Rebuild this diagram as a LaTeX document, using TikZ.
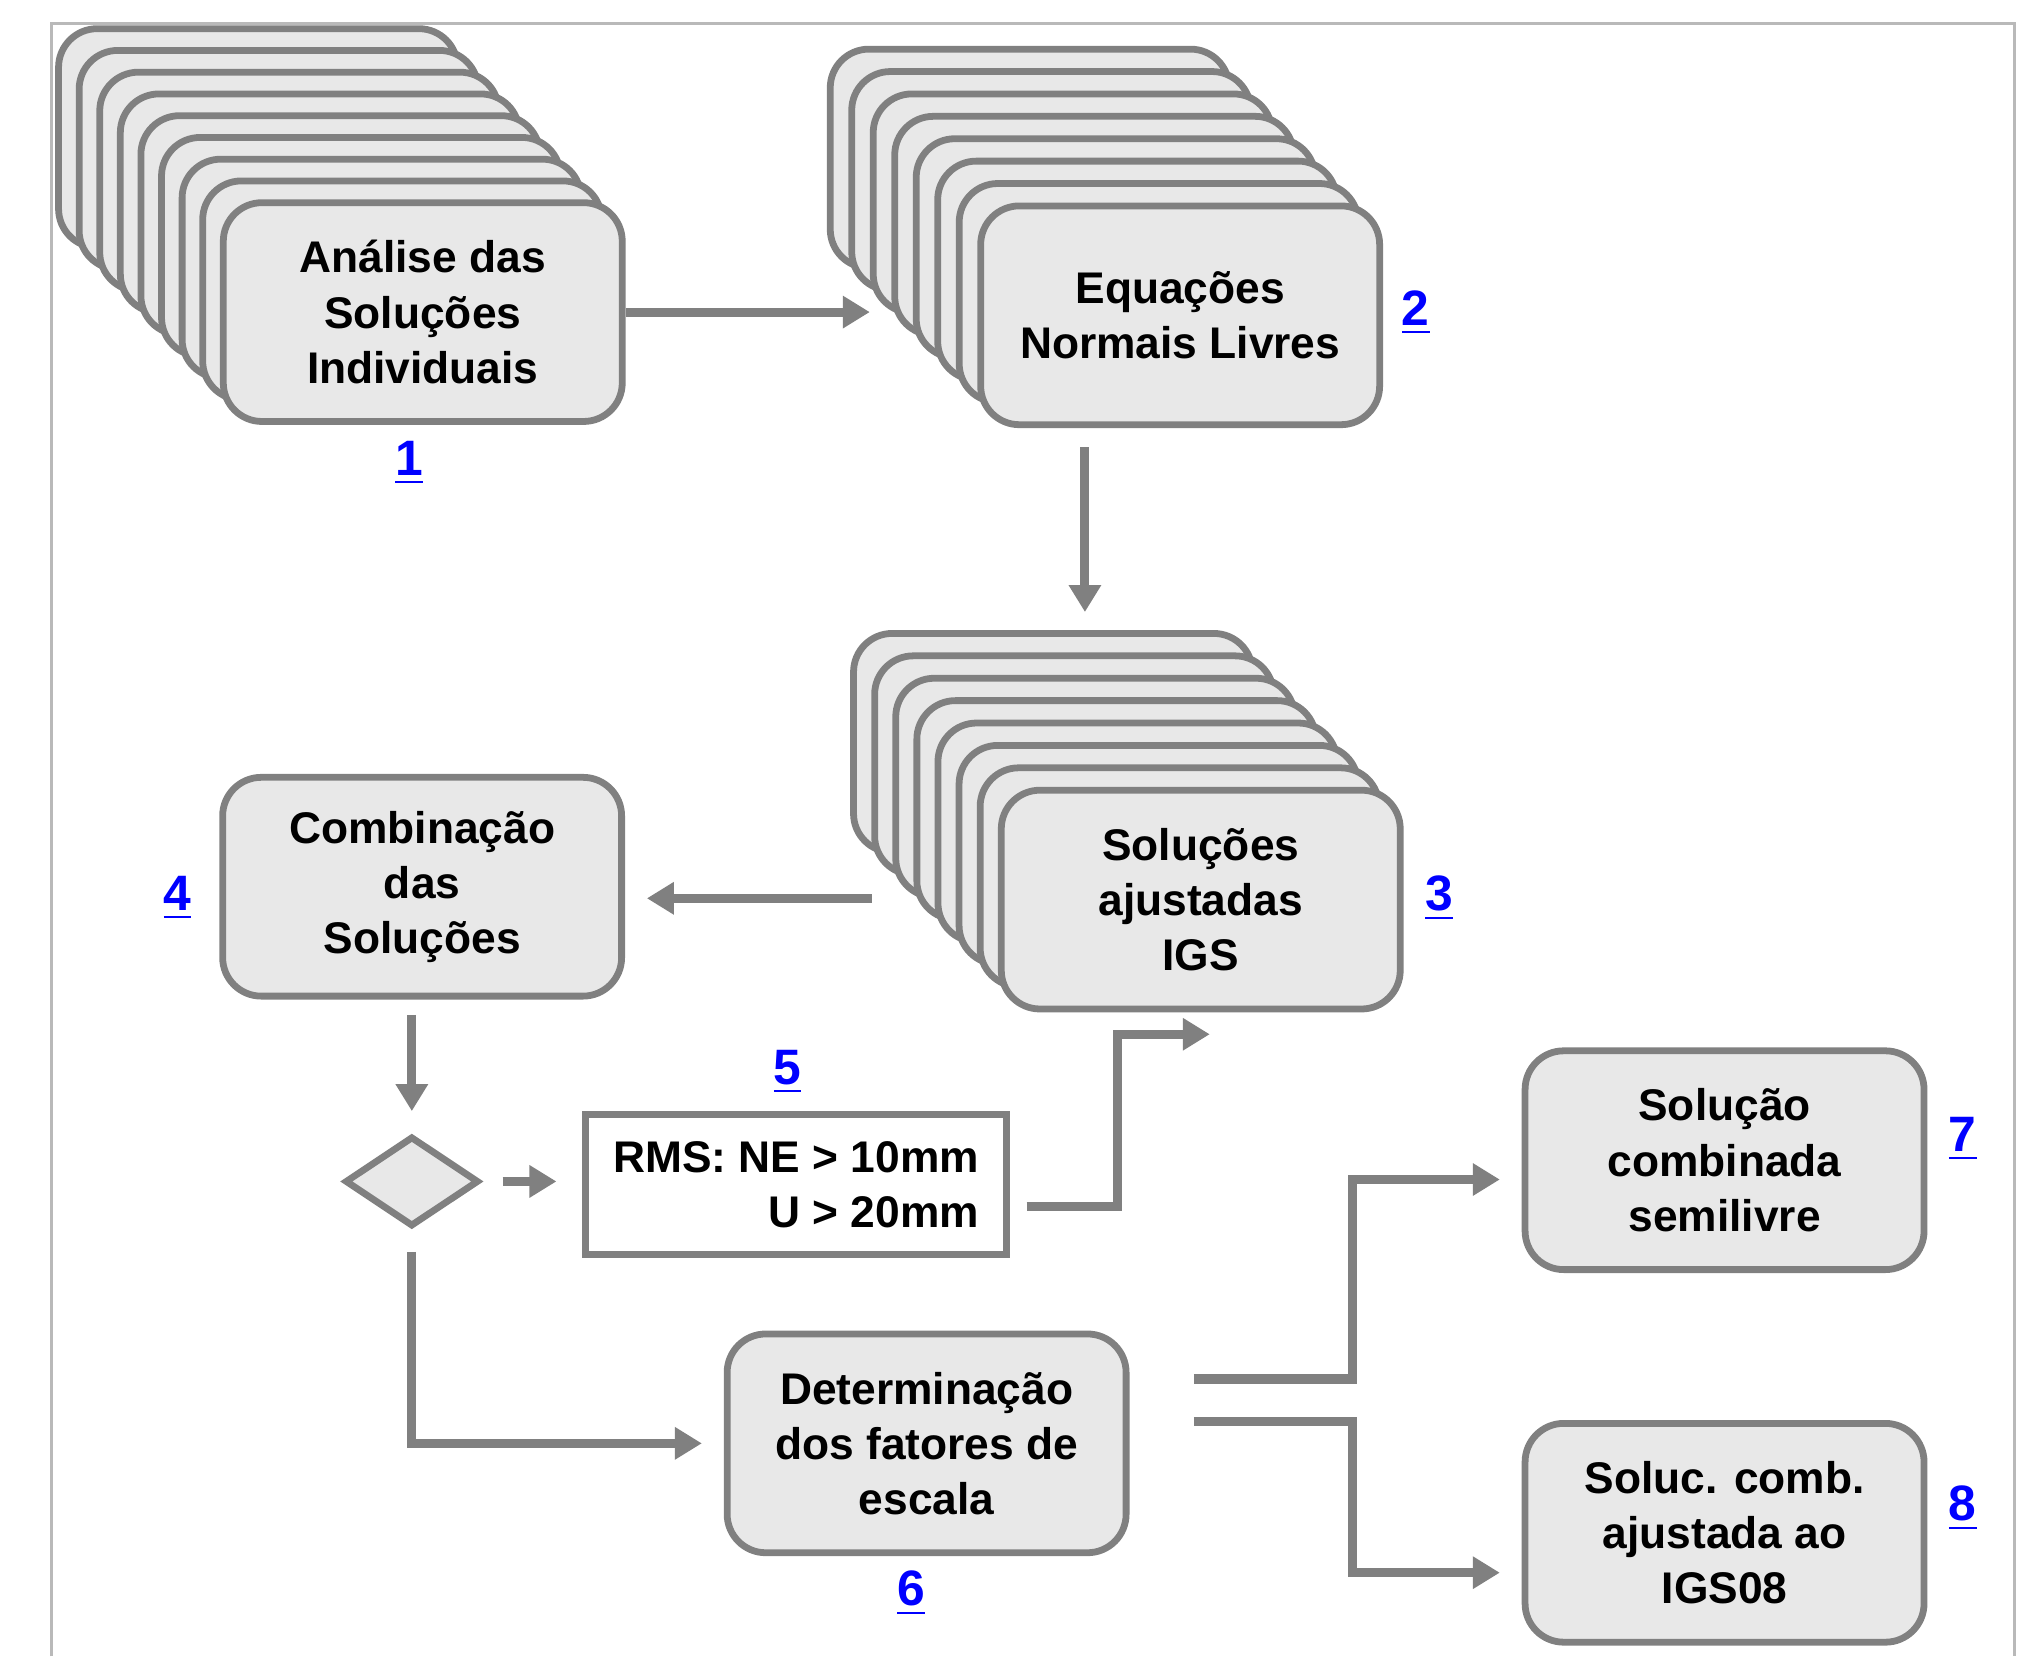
\documentclass[tikz,border=0pt]{standalone}
\usepackage{fontspec}
\setmainfont{Liberation Sans}
\usepackage{tikz}
\usetikzlibrary{positioning,calc,arrows.meta,shapes.geometric}
\definecolor{boxline}{RGB}{128,128,128}
\definecolor{boxfill}{RGB}{232,232,232}
\definecolor{framegray}{RGB}{185,185,185}

\begin{document}
\begin{tikzpicture}[x=0.1mm, y=-0.1mm,
  txt/.style={font=\fontsize{9.8}{12.2}\selectfont\bfseries},
  procbox/.style={txt, draw=boxline, fill=boxfill, line width=1.5pt, rectangle, rounded corners=3mm, minimum width=3.1cm, minimum height=1.7cm, align=center},
  rmsbox/.style={txt, draw=boxline, fill=white, line width=1.5pt, rectangle, minimum width=3.27cm, minimum height=1.09cm, align=right},
  decision/.style={draw=boxline, fill=boxfill, line width=1.5pt, diamond, aspect=1.5, minimum width=1.04cm, minimum height=0.7cm, inner sep=0pt},
  num/.style={text=blue, font=\fontsize{11}{13}\selectfont\bfseries},
  flow/.style={draw=boxline, line width=2pt, -{Triangle[length=2.1mm,width=2.4mm]}}]
\useasboundingbox (0,0) rectangle (1568,1287);
\fill[white] (0,0) rectangle (1568,1287);
\draw[framegray, line width=0.6pt] (40,1287) -- (40,18) -- (1565,18) -- (1565,1287);
% Analise das solucoes individuais
\foreach \k in {8,7,...,1}
  \node[procbox] (ana-\k) at ({328.5-16*\k},{242.5-16.9*\k}) {};
\node[procbox] (ana) at (328.5,242.5) {Análise das\\Soluções\\Individuais};
% Equacoes normais livres
\foreach \k in {7,6,...,1}
  \node[procbox] (eq-\k) at ({917-16.7*\k},{245-17.4*\k}) {};
\node[procbox] (eq) at (917,245) {Equações\\Normais Livres};
% Solucoes ajustadas IGS
\foreach \k in {7,6,...,1}
  \node[procbox] (sa-\k) at ({933-16.4*\k},{699-17.4*\k}) {};
\node[procbox] (sa) at (933,699) {Soluções\\ajustadas\\IGS};
% Combinacao
\node[procbox] (comb) at (328,689) {Combinação\\das\\Soluções};
\node[decision] (dia) at (320,918) {};
\node[rmsbox] (rms) at (618.5,920.5) {RMS: NE > 10mm\\U > 20mm};
% Fatores de escala e resultados
\node[procbox] (det) at (720,1121.5) {Determinação\\dos fatores de\\escala};
\node[procbox] (sol) at (1340,901.5) {Solução\\combinada\\semilivre};
\node[procbox] (igs) at (1340,1191) {Soluc. comb.\\ajustada ao\\IGS08};
% Numeros
\node[num] (n1) at (318,360) {\underline{1}};
\node[num] (n2) at (1100,243) {\underline{2}};
\node[num] (n3) at (1118,698) {\underline{3}};
\node[num] (n4) at (138,698) {\underline{4}};
\node[num] (n5) at (612,833) {\underline{5}};
\node[num] (n6) at (708,1238) {\underline{6}};
\node[num] (n7) at (1525,885) {\underline{7}};
\node[num] (n8) at (1525,1172) {\underline{8}};
% Setas
\coordinate (sa-top) at ($(sa-7.north)+(0,-14)$);
\coordinate (eq-out) at ($(eq.south)+(-74,15)$);
\draw[flow] (ana.east) -- (ana.east -| eq-5.west);
\draw[flow] (eq-out) -- (eq-out |- sa-top);
\draw[flow] ($(sa.west)+(-98,-1)$) -- ($(comb.east |- sa.west)+(17,-1)$);
\draw[flow] ($(dia.north |- comb.south)+(0,12)$) -- ($(dia.north)+(0,-17)$);
\draw[flow] ($(dia.east)+(16,0)$) -- ($(rms.west |- dia.east)+(-20,0)$);
\draw[flow] ($(rms.east)+(13,17)$) -| ($(sa.south)+(-65,17)$) -- ($(sa.south)+(7,17)$);
\draw[flow] ($(dia.south)+(0,17)$) |- ($(det.west)+(-17,0)$);
\draw[flow] ($(det.east)+(50,-50)$) -- ++(123,0) |- ($(sol.west)+(-17,15)$);
\draw[flow] ($(det.east)+(50,-17)$) -- ++(123,0) |- ($(igs.west)+(-17,31)$);
\end{tikzpicture}
\end{document}
